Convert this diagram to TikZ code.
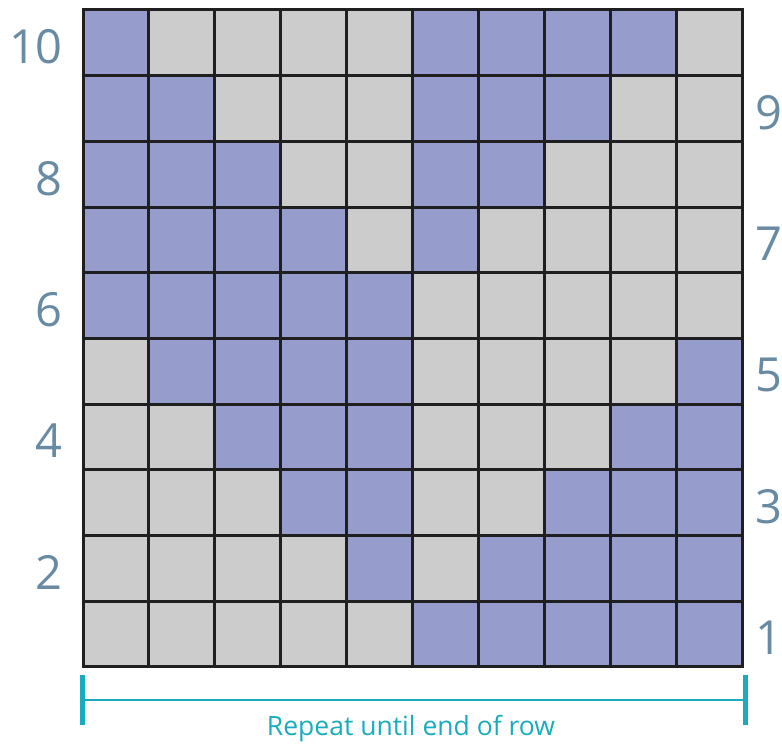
\documentclass[tikz,border=0pt]{standalone}
\usepackage{fontspec}
\setmainfont{Open Sans}
\usepackage{tikz}
\usetikzlibrary{positioning, calc}
\definecolor{weaveblue}{RGB}{150, 157, 204}
\definecolor{weavegray}{RGB}{204, 204, 204}
\definecolor{rowlabel}{RGB}{104, 138, 163}
\definecolor{repeatteal}{RGB}{24, 172, 190}

\tikzset{
    cellbox/.style={draw=black!88, line width=3pt},
    rownum/.style={text=rowlabel, font=\fontsize{47}{47}\selectfont, inner sep=0pt},
    bracketbar/.style={draw=repeatteal, line width=5pt},
    bracketline/.style={draw=repeatteal, line width=2pt},
}

\begin{document}
\begin{tikzpicture}[x=1pt, y=1pt]
    \useasboundingbox (0,0) rectangle (782,744);
    % chart cells, top row first
    \foreach \r/\pat in {10/{1,0,0,0,0,1,1,1,1,0}, 9/{1,1,0,0,0,1,1,1,0,0},
                         8/{1,1,1,0,0,1,1,0,0,0}, 7/{1,1,1,1,0,1,0,0,0,0},
                         6/{1,1,1,1,1,0,0,0,0,0}, 5/{0,1,1,1,1,0,0,0,0,1},
                         4/{0,0,1,1,1,0,0,0,1,1}, 3/{0,0,0,1,1,0,0,1,1,1},
                         2/{0,0,0,0,1,0,1,1,1,1}, 1/{0,0,0,0,0,1,1,1,1,1}} {
        \foreach \v [count=\c] in \pat {
            \ifnum\v=1 \def\cellcol{weaveblue}\else\def\cellcol{weavegray}\fi
            \filldraw[cellbox, fill=\cellcol] ({83+(\c-1)*65.9}, {77+(\r-1)*65.7}) rectangle ++(65.9, 65.7);
        }
    }
    % row numbers
    \foreach \r in {10, 8, 6, 4, 2}
        \node[rownum, anchor=east] (row\r) at (63, {77+(\r-0.5)*65.7-4}) {\r};
    \foreach \r in {9, 7, 5, 3, 1}
        \node[rownum, anchor=west] (row\r) at (755, {77+(\r-0.5)*65.7-4}) {\r};
    % repeat bracket
    \coordinate (repL) at (82, 44);
    \coordinate (repR) at (745, 44);
    \draw[bracketbar] ($(repL)+(0,25)$) -- ($(repL)+(0,-25)$);
    \draw[bracketbar] ($(repR)+(0,25)$) -- ($(repR)+(0,-25)$);
    \draw[bracketline] (repL) -- (repR);
    \node[text=repeatteal, font=\fontsize{26.5}{26.5}\selectfont, inner sep=0pt] (repeat) at (411, 15) {Repeat until end of row};
\end{tikzpicture}
\end{document}
